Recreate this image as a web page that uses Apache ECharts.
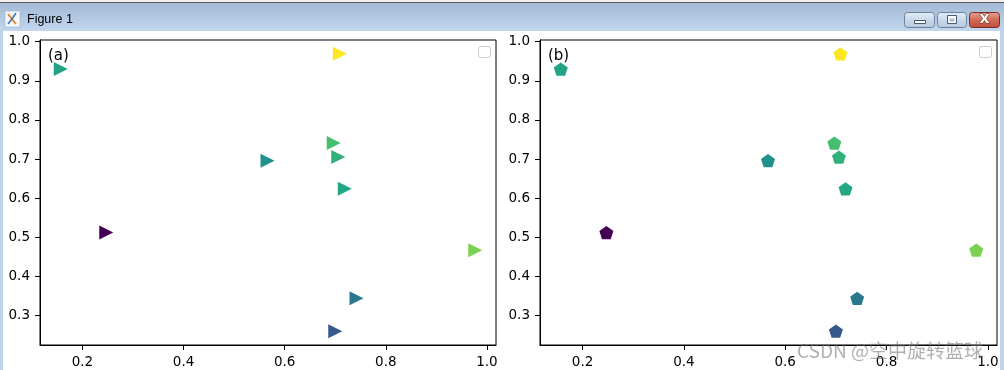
<!DOCTYPE html>
<html><head><meta charset="utf-8">
<script src="https://cdn.jsdelivr.net/npm/echarts@6/dist/echarts.min.js"></script>
<style>html,body{margin:0;padding:0;background:#fff;overflow:hidden}#c{width:1004px;height:370px}</style>
</head><body><div id="c"></div>
<script>
// ---- data ----
const xValues = [0.157, 0.709, 0.697, 0.706, 0.566, 0.719, 0.247, 0.977, 0.742, 0.700];
const yValues = [0.930, 0.969, 0.741, 0.705, 0.696, 0.624, 0.512, 0.467, 0.344, 0.260];
const colorValues = [0.58, 1.00, 0.70, 0.64, 0.50, 0.60, 0.00, 0.80, 0.40, 0.28];
const xTicks = [0.2, 0.4, 0.6, 0.8, 1.0];
const yTicks = [0.3, 0.4, 0.5, 0.6, 0.7, 0.8, 0.9, 1.0];
const panelLabels = ['(a)', '(b)'];
const windowTitle = 'Figure 1';
const watermark = 'CSDN @空中旋转篮球';
const viridis = ['#440154','#482475','#414487','#355f8d','#2a788e','#21918c','#22a884','#44bf70','#7ad151','#bddf26','#fde725'];

function padded(arr){ const mn=Math.min(...arr), mx=Math.max(...arr), m=(mx-mn)*0.05; return [mn-m, mx+m]; }
const xr = padded(xValues), yr = padded(yValues);
const points = xValues.map((x,i)=>[x, yValues[i], colorValues[i]]);

const FONT = 'DejaVu Sans';
const grids = [
  {left:40, top:40, width:456, height:305},
  {left:540, top:40, width:457, height:305}
];
const pentagon = 'path://M0,-1L0.951,-0.309L0.588,0.809L-0.588,0.809L-0.951,-0.309Z';

function xAxis(i){ return {gridIndex:i, type:'value', min:xr[0], max:xr[1],
  splitLine:{show:false}, axisLine:{show:true, lineStyle:{color:'#000', width:1}},
  axisTick:{show:true, customValues:xTicks, length:5, lineStyle:{color:'#000'}},
  axisLabel:{customValues:xTicks, formatter:v=>v.toFixed(1), color:'#000', fontFamily:FONT, fontSize:13.5, margin:10}}; }
function yAxis(i){ return {gridIndex:i, type:'value', min:yr[0], max:yr[1],
  splitLine:{show:false}, axisLine:{show:true, lineStyle:{color:'#000', width:1}},
  axisTick:{show:true, customValues:yTicks, length:5, lineStyle:{color:'#000'}},
  axisLabel:{customValues:yTicks, formatter:v=>v.toFixed(1), color:'#000', fontFamily:FONT, fontSize:13.5, margin:10}}; }

const chrome = [
  {type:'rect', shape:{x:0,y:0,width:1004,height:3}, style:{fill:'#f0f0f0'}, z:-10},
  {type:'rect', shape:{x:0,y:2,width:1004,height:1}, style:{fill:'#5a5a5a'}, z:-10},
  {type:'rect', shape:{x:0,y:3,width:1004,height:28}, style:{fill:{type:'linear',x:0,y:0,x2:0,y2:1,colorStops:[{offset:0,color:'#a3b9d5'},{offset:1,color:'#c2d7ee'}]}}, z:-10},
  {type:'rect', shape:{x:0,y:31,width:3,height:339}, style:{fill:'#bfd4ec'}, z:-10},
  {type:'rect', shape:{x:1000,y:31,width:4,height:339}, style:{fill:'#bfd4ec'}, z:-10},
  // icon
  {type:'rect', shape:{x:5,y:11,width:15,height:16}, style:{fill:'#f4f6fa', stroke:'#9aa8bb', lineWidth:0.5}, z:-9},
  {type:'polyline', shape:{points:[[8,14],[12,19],[16,24]]}, style:{stroke:'#e08a2a', lineWidth:2}, z:-8},
  {type:'polyline', shape:{points:[[16,13],[12,19],[8,24]]}, style:{stroke:'#3b6fb0', lineWidth:1.5}, z:-8},
  {type:'text', x:27, y:20, style:{text:windowTitle, font:'12.5px "Liberation Sans"', fill:'#000', verticalAlign:'middle'}, z:-8},
  // buttons
  {type:'rect', shape:{x:904.5,y:12.5,width:30,height:15,r:3}, style:{fill:{type:'linear',x:0,y:0,x2:0,y2:1,colorStops:[{offset:0,color:'#e4edf8'},{offset:0.5,color:'#c9d8ec'},{offset:1,color:'#b4c8e2'}]}, stroke:'#6d819c', lineWidth:1}, z:-9},
  {type:'rect', shape:{x:914.5,y:20.5,width:11,height:3}, style:{fill:'#fff', stroke:'#4a5a70', lineWidth:1}, z:-8},
  {type:'rect', shape:{x:937.5,y:12.5,width:29,height:15,r:3}, style:{fill:{type:'linear',x:0,y:0,x2:0,y2:1,colorStops:[{offset:0,color:'#e4edf8'},{offset:0.5,color:'#c9d8ec'},{offset:1,color:'#b4c8e2'}]}, stroke:'#6d819c', lineWidth:1}, z:-9},
  {type:'rect', shape:{x:947.5,y:15.5,width:9,height:8}, style:{fill:'#fff', stroke:'#4a5a70', lineWidth:1}, z:-8},
  {type:'rect', shape:{x:949.5,y:18.5,width:5,height:3}, style:{fill:'#a9bcd6'}, z:-7},
  {type:'rect', shape:{x:969.5,y:12.5,width:30,height:15,r:3}, style:{fill:{type:'linear',x:0,y:0,x2:0,y2:1,colorStops:[{offset:0,color:'#e6a597'},{offset:0.5,color:'#d06a58'},{offset:1,color:'#c04a36'}]}, stroke:'#7a2e24', lineWidth:1}, z:-9},
  {type:'text', x:984.5, y:20, style:{text:'X', font:'bold 13px "DejaVu Sans"', fill:'#fff', stroke:'#6a2a20', lineWidth:1, align:'center', verticalAlign:'middle'}, z:-8},
  // panel labels
  {type:'text', x:48, y:56, style:{text:panelLabels[0], font:'15px "DejaVu Sans"', fill:'#000', verticalAlign:'middle'}, z:10},
  {type:'text', x:548, y:56, style:{text:panelLabels[1], font:'15px "DejaVu Sans"', fill:'#000', verticalAlign:'middle'}, z:10},
  // empty legend boxes
  {type:'rect', shape:{x:478.5,y:46.5,width:12,height:11,r:2.5}, style:{fill:'#fff', stroke:'#cccccc', lineWidth:1}, z:10},
  {type:'rect', shape:{x:979.5,y:46.5,width:12,height:11,r:2.5}, style:{fill:'#fff', stroke:'#cccccc', lineWidth:1}, z:10},
  // watermark
  {type:'text', x:797, y:351, style:{text:watermark, font:'19px "Noto Sans CJK SC"', fill:'rgba(110,110,110,0.55)', verticalAlign:'middle'}, z:100}
];

const chart = echarts.init(document.getElementById('c'), null, {renderer:'canvas'});
chart.setOption({
  animation:false,
  backgroundColor:'#fff',
  grid: grids.map(g=>Object.assign({show:true, borderColor:'#000', borderWidth:1, backgroundColor:'#fff'}, g)),
  xAxis:[xAxis(0), xAxis(1)],
  yAxis:[yAxis(0), yAxis(1)],
  visualMap:{type:'continuous', show:false, min:0, max:1, dimension:2, seriesIndex:[0,1], inRange:{color:viridis, opacity:1}},
  series:[
    {type:'scatter', xAxisIndex:0, yAxisIndex:0, data:points, symbol:'triangle', symbolRotate:-90, symbolSize:14, itemStyle:{opacity:1}},
    {type:'scatter', xAxisIndex:1, yAxisIndex:1, data:points, symbol:pentagon, symbolSize:[14,13.3], itemStyle:{opacity:1}}
  ],
  graphic: chrome
});
</script></body></html>
